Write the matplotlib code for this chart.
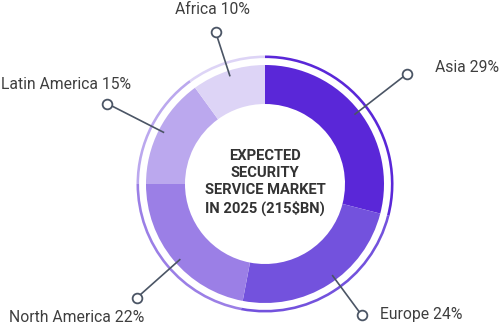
import matplotlib
matplotlib.use("Agg")
import matplotlib.pyplot as plt
import numpy as np

regions = ["Asia", "Europe", "North America", "Latin America", "Africa"]
shares = [29, 24, 22, 15, 10]
colors = ["#5a27d8", "#7352dd", "#9b7fe6", "#bba8ee", "#ddd4f6"]
center_title = "EXPECTED\nSECURITY\nSERVICE MARKET\nIN 2025 (215\\$BN)"

plt.rcParams['font.family'] = ['Roboto', 'DejaVu Sans']

W, H = 500, 328
fig = plt.figure(figsize=(W / 100, H / 100), dpi=100)
ax = fig.add_axes([0, 0, 1, 1])

cx, cy = 265, H - 184
R_out, R_in = 119, 80
R_ring, ring_w = 128.5, 2.6

ax.pie(shares, colors=colors, startangle=90, counterclock=False,
       radius=R_out, center=(cx, cy),
       wedgeprops=dict(width=R_out - R_in, linewidth=0), frame=True)
ax.pie(shares, colors=colors, startangle=90, counterclock=False,
       radius=R_ring, center=(cx, cy),
       wedgeprops=dict(width=ring_w, linewidth=0), frame=True)

# leader lines (style: length, angle tweak, label offset)
end_r = [180, 163, 171, 177, 160]
ang_tweak = [0, 4, 2, 0, 0]
label_off = [(28, 6, 'left', 'center'), (18, 1, 'left', 'center'),
             (7, -20, 'right', 'center'), (24, 19, 'right', 'center'),
             (-3, 22, 'center', 'center')]
cum = np.cumsum([0] + shares[:-1])
for i, (name, s) in enumerate(zip(regions, shares)):
    mid = (cum[i] + s / 2) / 100.0 * 360.0
    ang = np.deg2rad(90 - mid + ang_tweak[i])
    x0, y0 = cx + 114 * np.cos(ang), cy + 114 * np.sin(ang)
    x1, y1 = cx + end_r[i] * np.cos(ang), cy + end_r[i] * np.sin(ang)
    ax.plot([x0, x1], [y0, y1], color="#4b5565", lw=1.2, zorder=3)
    ax.plot([x1], [y1], marker='o', ms=7, mfc='white', mec="#4b5565",
            mew=1.3, zorder=4)
    dx, dy, ha, va = label_off[i]
    ax.text(x1 + dx, y1 + dy, f"{name} {s}%", ha=ha, va=va,
            fontsize=11.3, color="#3f3f3f")

ax.text(cx, cy + 1.5, center_title, ha='center', va='center',
        fontsize=10.6, fontweight='bold', color="#333333", linespacing=1.26)

ax.set_xlim(0, W)
ax.set_ylim(0, H)
ax.set_aspect('auto')
ax.axis('off')
fig.savefig("out.png", dpi=100)
